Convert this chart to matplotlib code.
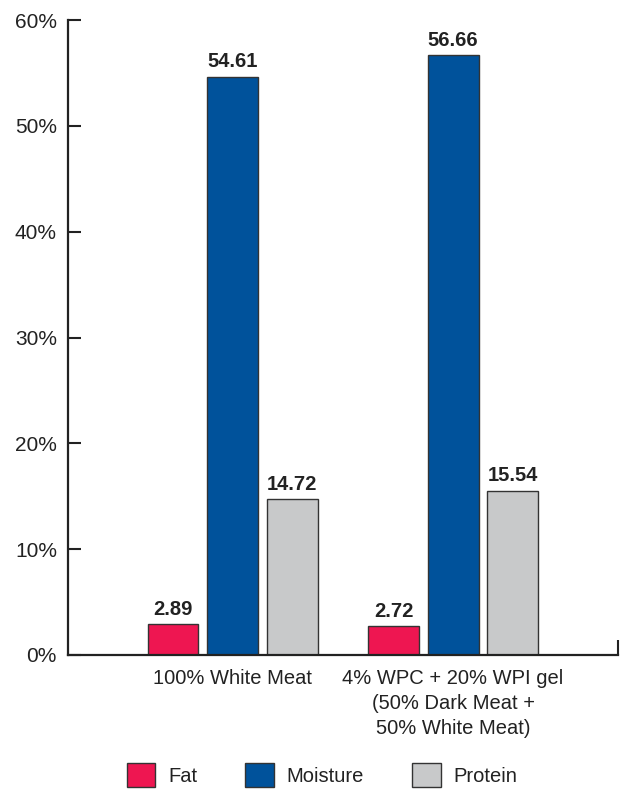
import matplotlib
matplotlib.use('Agg')
import matplotlib.pyplot as plt
import numpy as np

plt.rcParams['font.family'] = ['Liberation Sans', 'DejaVu Sans']

# 各樣品成分（%）
categories = ['100% White Meat', '4% WPC + 20% WPI gel\n(50% Dark Meat +\n50% White Meat)']
series_names = ['Fat', 'Moisture', 'Protein']
fat = [2.89, 2.72]
moisture = [54.61, 56.66]
protein = [14.72, 15.54]
y_ticks = [0, 10, 20, 30, 40, 50, 60]

colors = ['#EE1651', '#00529B', '#C8C9CA']

fig = plt.figure(figsize=(6.22, 7.90), dpi=100)
ax = fig.add_axes([68/622, 1 - 655/790, 550/622, 635/790])

x = np.arange(len(categories))
width = 0.231
step = 0.27
for i, (name, vals) in enumerate(zip(series_names, [fat, moisture, protein])):
    bars = ax.bar(x + (i - 1) * step, vals, width, color=colors[i],
                  edgecolor='#333333', linewidth=1.0, label=name)
    for b, v in zip(bars, vals):
        ax.annotate(f'{v:.2f}', (b.get_x() + b.get_width() / 2, v),
                    xytext=(0, 4), textcoords='offset points',
                    ha='center', va='bottom', fontsize=14.5, fontweight='bold',
                    color='#222222')

ax.set_xlim(-0.746, 1.748)
ax.set_ylim(0, 60)
ax.set_yticks(y_ticks)
ax.set_yticklabels([f'{t}%' for t in y_ticks])
ax.set_xticks(x)
ax.set_xticklabels(categories, linespacing=1.4)

for s in ['top', 'right']:
    ax.spines[s].set_visible(False)
for s in ['left', 'bottom']:
    ax.spines[s].set_linewidth(1.6)
    ax.spines[s].set_color('#222222')

ax.tick_params(axis='y', direction='in', length=9.5, width=1.5, pad=8,
               labelsize=15, colors='#222222')
ax.tick_params(axis='x', length=0, pad=10, labelsize=14.5, colors='#222222')
# 右端的小刻度
ax.set_xticks([1.748], minor=True)
ax.tick_params(axis='x', which='minor', direction='in', length=11, width=1.5,
               color='#222222')

ax.legend(loc='upper center', bbox_to_anchor=(0.462, -0.142), ncol=3,
          frameon=False, fontsize=14.5, handlelength=1.4, handleheight=1.4,
          handletextpad=0.65, columnspacing=2.4, labelcolor='#222222')

fig.savefig('out.png', dpi=100)
